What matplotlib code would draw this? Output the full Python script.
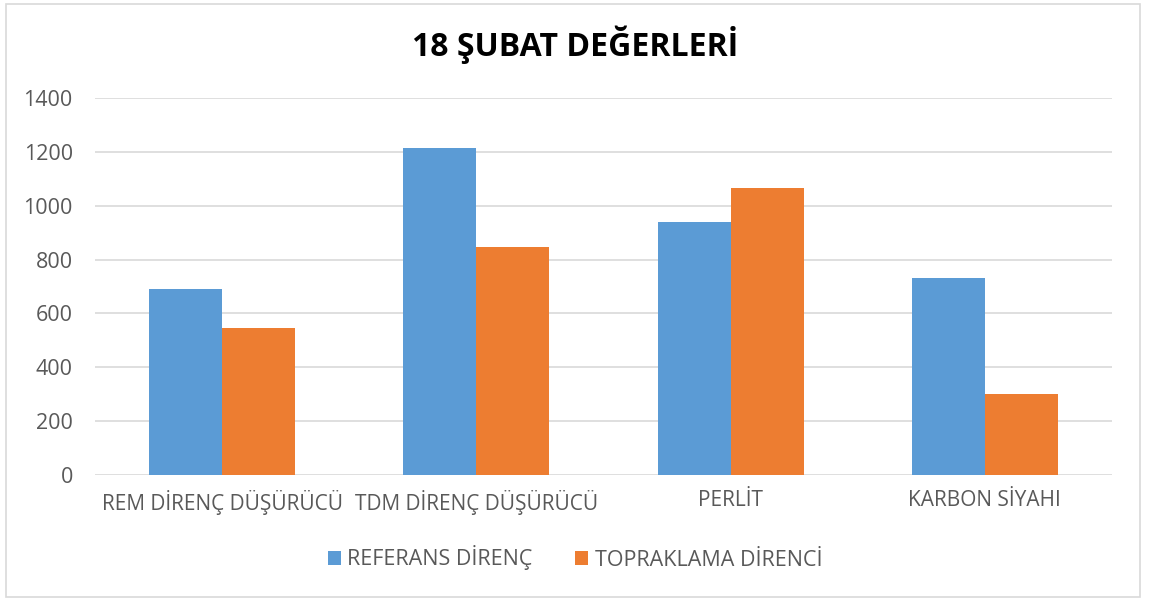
import matplotlib
matplotlib.use("Agg")
import matplotlib.pyplot as plt
import numpy as np
from matplotlib.patches import Rectangle

categories = ["REM DİRENÇ DÜŞÜRÜCÜ", "TDM DİRENÇ DÜŞÜRÜCÜ", "PERLİT", "KARBON SİYAHI"]
series_names = ["REFERANS DİRENÇ", "TOPRAKLAMA DİRENCİ"]
referans = [690, 1214, 940, 731]
topraklama = [545, 846, 1065, 301]
yticks = [0, 200, 400, 600, 800, 1000, 1200, 1400]

colors = ["#5B9BD5", "#ED7D31"]
txt = "#595959"
plt.rcParams['font.family'] = ['Open Sans', 'DejaVu Sans']

fig = plt.figure(figsize=(11.5, 6.01), dpi=100)
fig.patches.append(Rectangle((6/1150, 4/601), (1140-6)/1150, (597-4)/601, transform=fig.transFigure,
                             fill=False, edgecolor="#D9D9D9", linewidth=1.2))
ax = fig.add_axes([95/1150, 1-475/601, (1112-95)/1150, (475-98)/601])

x = np.arange(len(categories))
w = 0.287
ax.bar(x - w/2, referans, w, color=colors[0], label=series_names[0], zorder=3)
ax.bar(x + w/2, topraklama, w, color=colors[1], label=series_names[1], zorder=3)

ax.set_xlim(-0.5, len(categories) - 0.5)
ax.set_ylim(0, 1400)
ax.set_yticks(yticks)
ax.set_yticklabels([str(v) for v in yticks], fontsize=15.5, color=txt)
ax.set_xticks(x)
ax.set_xticklabels(categories, fontsize=15, color=txt)
ax.tick_params(axis='both', length=0)
ax.tick_params(axis='y', pad=16)
ax.tick_params(axis='x', pad=11)
ax.grid(axis='y', color="#D9D9D9", linewidth=1.2, zorder=0)
for s in ax.spines.values():
    s.set_visible(False)

fig.text(0.5, 1-45/601, "18 ŞUBAT DEĞERLERİ", ha='center', va='center', fontsize=23,
         fontweight='bold', color="black")

leg = fig.legend(loc='center', bbox_to_anchor=(0.5, 1-558/601), ncol=2, frameon=False,
                 fontsize=15.5, handlelength=0.6, handleheight=0.6, columnspacing=2.0,
                 handletextpad=0.3)
for t in leg.get_texts():
    t.set_color(txt)

fig.savefig("out.png", dpi=100)
